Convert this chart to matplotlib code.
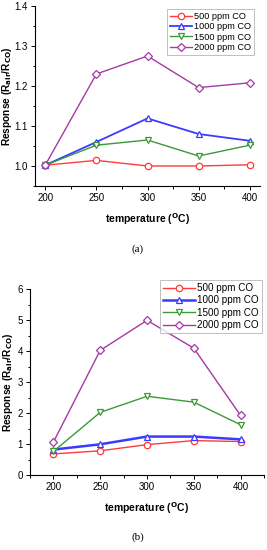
import matplotlib.pyplot as plt
from matplotlib.ticker import MultipleLocator

plt.rcParams['font.family'] = ['Liberation Sans', 'DejaVu Sans']

temps = [200, 250, 300, 350, 400]
labels = ['500 ppm CO', '1000 ppm CO', '1500 ppm CO', '2000 ppm CO']
colors = ['#ff3b3b', '#3b3bff', '#3a9a3a', '#a43aa4']
markers = ['o', '^', 'v', 'D']

# (a)
a_500 = [1.002, 1.014, 1.000, 1.000, 1.003]
a_1000 = [1.002, 1.060, 1.119, 1.080, 1.063]
a_1500 = [1.002, 1.052, 1.065, 1.025, 1.052]
a_2000 = [1.002, 1.230, 1.275, 1.196, 1.208]

# (b)
b_500 = [0.68, 0.78, 0.98, 1.11, 1.08]
b_1000 = [0.82, 0.99, 1.24, 1.24, 1.15]
b_1500 = [0.76, 2.02, 2.54, 2.35, 1.62]
b_2000 = [1.06, 4.02, 4.99, 4.09, 1.92]

fig = plt.figure(figsize=(2.67, 5.5), dpi=100)


def panel(ax, series, widths, ylim, xlim, ymaj, ymin, yfmt, ylab_x,
          leg_anchor, leg_fs, leg_sp, leg_hl):
    for s, c, m, lab, lw in zip(series, colors, markers, labels, widths):
        ms = 4.0 if m == 'D' else 4.6
        ax.plot(temps, s, color=c, lw=lw, marker=m, ms=ms,
                mfc='white', mec=c, mew=0.9, label=lab)
    ax.set_xlim(*xlim)
    ax.set_ylim(*ylim)
    ax.spines['top'].set_visible(False)
    ax.spines['right'].set_visible(False)
    ax.set_xticks(temps)
    ax.xaxis.set_minor_locator(MultipleLocator(25))
    ax.yaxis.set_major_locator(MultipleLocator(ymaj))
    ax.yaxis.set_minor_locator(MultipleLocator(ymin))
    ax.yaxis.set_major_formatter(yfmt)
    ax.tick_params(which='both', direction='out', labelsize=7, width=0.7,
                   pad=2)
    ax.tick_params(which='major', length=3)
    ax.tick_params(which='minor', length=1.8)
    for sp in ax.spines.values():
        sp.set_linewidth(0.8)
    ax.set_xlabel('temperature ($^{\\mathbf{O}}$C)', fontsize=7.5,
                  fontweight='bold', labelpad=6)
    ax.set_ylabel('Response (R$_{\\mathbf{air}}$/R$_{\\mathbf{CO}}$)',
                  fontsize=7.3, fontweight='bold')
    ax.yaxis.set_label_coords(ylab_x, 0.5)
    leg = ax.legend(loc='upper right', fontsize=leg_fs, frameon=True,
                    fancybox=False, edgecolor='#b0b0b0', handlelength=leg_hl,
                    handletextpad=0.25, borderpad=0.3, labelspacing=leg_sp,
                    borderaxespad=0, bbox_to_anchor=leg_anchor,
                    bbox_transform=fig.transFigure)
    leg.get_frame().set_linewidth(0.7)


ax1 = fig.add_axes([35 / 267, 1 - 186 / 550, 225 / 267, 180 / 550])
panel(ax1, [a_500, a_1000, a_1500, a_2000], [1.0, 1.3, 1.0, 1.0],
      (0.95, 1.4), (190, 410), 0.1, 0.05, '{x:.1f}', -0.092,
      (254 / 267, 1 - 9 / 550), 6.6, 0.15, 2.4)

ax2 = fig.add_axes([30 / 267, 1 - 475 / 550, 234 / 267, 186 / 550])
panel(ax2, [b_500, b_1000, b_1500, b_2000], [1.0, 1.8, 1.0, 1.0],
      (0, 6), (175, 425), 1, 0.5, '{x:.0f}', -0.065,
      (262 / 267, 1 - 280 / 550), 7.1, 0.25, 3.2)

fig.text(138 / 267, 1 - 249 / 550, '(a)', family='Liberation Serif',
         fontsize=8, ha='center', va='center')
fig.text(138 / 267, 1 - 537 / 550, '(b)', family='Liberation Serif',
         fontsize=8, ha='center', va='center')

fig.savefig('out.png', dpi=100)
